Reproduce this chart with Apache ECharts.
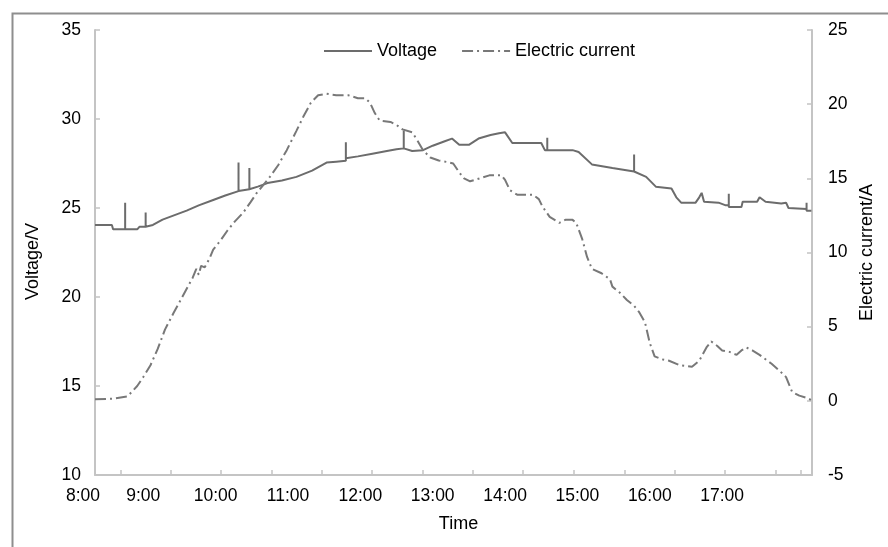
<!DOCTYPE html>
<html>
<head>
<meta charset="utf-8">
<script src="https://cdn.jsdelivr.net/npm/echarts@6/dist/echarts.min.js"></script>
<style>
html,body{margin:0;padding:0;background:#fff;}
#chart{width:888px;height:547px;}
</style>
</head>
<body>
<div id="chart"></div>
<script>
// x values are minutes after 8:00
var xLabelMinutes = [20, 60, 120, 180, 240, 300, 360, 420, 480, 540];
var xLabelText = ['8:00', '9:00', '10:00', '11:00', '12:00', '13:00', '14:00', '15:00', '16:00', '17:00'];
var xTickMinutes = [41.0, 83.2, 124.6, 166.8, 208.1, 249.5, 291.7, 333.1, 374.5, 416.7, 458.9, 501.1, 542.5, 584.7, 605.4];

var voltagePoints = [
  [20, 24.05], [34, 24.05], [35, 23.8], [45, 23.8], [45, 25.3], [45, 23.8], [55, 23.8], [57, 23.95],
  [62, 23.95], [62, 24.75], [62, 23.95], [68, 24.05], [76, 24.35], [86, 24.6], [96, 24.85], [106, 25.15],
  [118, 25.45], [128, 25.7], [139, 25.95], [139, 27.55], [139, 25.95], [148, 26.05], [148, 27.25],
  [148, 26.05], [155, 26.2], [163, 26.4], [175, 26.55], [187, 26.75], [200, 27.1], [212, 27.55],
  [220, 27.6], [228, 27.65], [228, 28.7], [228, 27.8], [238, 27.9], [250, 28.05], [262, 28.2],
  [270, 28.3], [276, 28.35], [276, 29.35], [276, 28.35], [283, 28.2], [292, 28.25], [300, 28.5],
  [310, 28.75], [316, 28.9], [322, 28.55], [330, 28.55], [338, 28.9], [348, 29.1], [355, 29.2],
  [360, 29.25], [366, 28.65], [390, 28.65], [393, 28.25], [395, 28.25], [395, 28.95], [395, 28.25],
  [416, 28.25], [421, 28.15], [432, 27.45], [449, 27.25], [467, 27.05], [467, 28.0], [467, 27.05],
  [477, 26.75], [485, 26.2], [498, 26.1], [502, 25.6], [506, 25.3], [518, 25.3], [521, 25.6], [523, 25.85],
  [525, 25.35], [537, 25.3], [543, 25.15], [545.5, 25.15], [545.5, 25.8], [545.5, 25.05], [556, 25.05],
  [557, 25.35], [569, 25.35], [571, 25.6], [576, 25.35], [589, 25.25], [593, 25.3], [595, 25.0],
  [610, 24.95], [610, 25.3], [610, 24.85], [614, 24.85]
];

var currentPoints = [
  [20, 0.1], [35, 0.15], [47, 0.3], [55, 1.0], [60, 1.6], [66, 2.4], [72, 3.5], [78, 4.8], [85, 5.9],
  [91, 6.8], [97, 7.7], [101, 8.3], [104, 8.9], [106, 8.5], [108, 9.1], [111, 9.0], [115, 9.6], [118, 10.2],
  [124, 10.8], [130, 11.5], [136, 12.1], [143, 12.7], [149, 13.4], [154, 14.0], [160, 14.6], [165, 15.1],
  [172, 15.9], [179, 16.9], [187, 18.2], [193, 19.2], [199, 20.1], [205, 20.6], [212, 20.7], [220, 20.6],
  [230, 20.6], [238, 20.4], [244, 20.4], [248, 20.1], [252, 19.4], [256, 18.9], [265, 18.8], [270, 18.6],
  [275, 18.3], [283, 18.1], [287, 17.6], [292, 16.9], [298, 16.4], [305, 16.2], [312, 16.1], [317, 16.0],
  [322, 15.4], [326, 15.0], [331, 14.8], [335, 14.9], [339, 15.0], [347, 15.2], [357, 15.2], [360, 14.9],
  [364, 14.2], [370, 13.9], [383, 13.9], [388, 13.6], [391, 13.1], [397, 12.4], [405, 12.0], [410, 12.2],
  [416, 12.2], [419, 12.0], [424, 10.9], [428, 9.7], [432, 8.9], [440, 8.6], [447, 8.2], [449, 7.7],
  [455, 7.3], [461, 6.8], [467, 6.4], [471, 6.0], [476, 5.3], [480, 3.9], [484, 3.0], [490, 2.8],
  [496, 2.7], [505, 2.4], [515, 2.3], [521, 2.7], [527, 3.6], [531, 4.0], [536, 3.7], [540, 3.4],
  [546, 3.3], [552, 3.1], [556, 3.4], [560, 3.6], [565, 3.4], [571, 3.1], [581, 2.5], [588, 2.0],
  [593, 1.6], [598, 0.6], [604, 0.35], [610, 0.2], [614, 0.05]
];

var FONT = '"Liberation Sans", Arial, sans-serif';
var axisColor = '#c4c4c4';

var chart = echarts.init(document.getElementById('chart'), null, {renderer: 'canvas'});
chart.setOption({
  animation: false,
  backgroundColor: '#fff',
  textStyle: {fontFamily: FONT, color: '#000'},
  graphic: [{
    type: 'rect', left: 10, top: 11, z: -1,
    shape: {width: 900, height: 600},
    style: {fill: 'none', stroke: '#8e8e8e', lineWidth: 2}
  }],
  legend: {
    data: ['Voltage', 'Electric current'],
    left: 318, top: 37,
    itemWidth: 48, itemHeight: 14, itemGap: 24,
    itemStyle: {opacity: 0},
    textStyle: {fontFamily: FONT, fontSize: 18, color: '#000'}
  },
  grid: {left: 95, right: 76, top: 30, bottom: 72, containLabel: false},
  xAxis: {
    type: 'value', min: 20, max: 614.5,
    name: 'Time', nameLocation: 'middle', nameGap: 40,
    nameTextStyle: {fontFamily: FONT, fontSize: 18, color: '#000', padding: [0, 0, 0, 10]},
    axisLine: {onZero: false, lineStyle: {color: axisColor, width: 2}},
    axisTick: {show: true, inside: true, length: 5, customValues: xTickMinutes, lineStyle: {color: axisColor, width: 1.5}},
    axisLabel: {
      customValues: xLabelMinutes, margin: 12, fontSize: 17.5, fontFamily: FONT, color: '#000',
      formatter: function (v) {
        var i = xLabelMinutes.indexOf(v);
        var t = i >= 0 ? xLabelText[i] : '';
        return i === 0 ? '{a|' + t + '}' : t;
      },
      rich: {a: {fontSize: 17.5, fontFamily: FONT, color: '#000', padding: [0, 24, 0, 0]}}
    },
    splitLine: {show: false}
  },
  yAxis: [{
    type: 'value', min: 10, max: 35, interval: 5,
    name: 'Voltage/V', nameLocation: 'middle', nameRotate: 90, nameGap: 53,
    nameTextStyle: {fontFamily: FONT, fontSize: 18, color: '#000', padding: [0, 18, 0, 0]},
    axisLine: {show: true, lineStyle: {color: axisColor, width: 2}},
    axisTick: {show: true, inside: true, length: 5, lineStyle: {color: axisColor, width: 1.5}},
    axisLabel: {margin: 14, fontSize: 17.5, fontFamily: FONT, color: '#000'},
    splitLine: {show: false}
  }, {
    type: 'value', min: -5, max: 25, interval: 5, position: 'right',
    name: 'Electric current/A', nameLocation: 'middle', nameRotate: 90, nameGap: 46,
    nameTextStyle: {fontFamily: FONT, fontSize: 18, color: '#000'},
    axisLine: {show: true, lineStyle: {color: axisColor, width: 2}},
    axisTick: {show: true, inside: true, length: 5, lineStyle: {color: axisColor, width: 1.5}},
    axisLabel: {margin: 16, fontSize: 17.5, fontFamily: FONT, color: '#000'},
    splitLine: {show: false}
  }],
  series: [{
    name: 'Voltage', type: 'line', yAxisIndex: 0,
    data: voltagePoints, symbol: 'none', showSymbol: false,
    lineStyle: {color: '#6c6c6c', width: 2},
    itemStyle: {color: '#6c6c6c'}
  }, {
    name: 'Electric current', type: 'line', yAxisIndex: 1,
    data: currentPoints, symbol: 'none', showSymbol: false,
    lineStyle: {color: '#787878', width: 2, type: [11, 4, 2, 4]},
    itemStyle: {color: '#787878'}
  }]
});
</script>
</body>
</html>
